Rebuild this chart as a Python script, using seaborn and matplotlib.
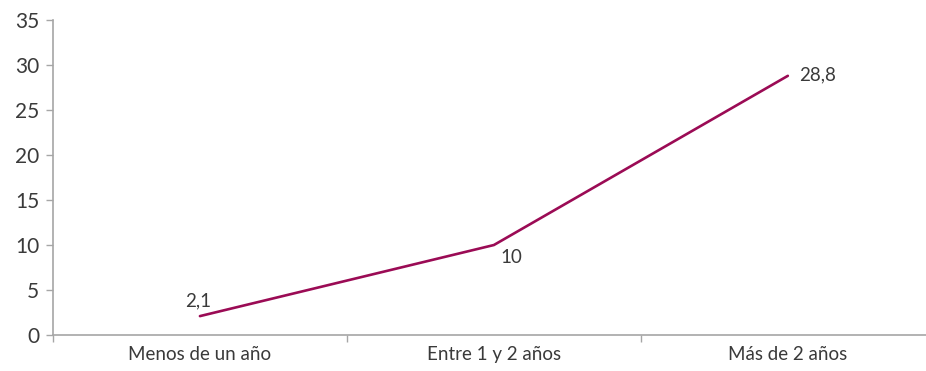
import matplotlib
matplotlib.use('Agg')
import matplotlib.pyplot as plt
import pandas as pd
import seaborn as sns

categorias = ['Menos de un año', 'Entre 1 y 2 años', 'Más de 2 años']
valores = [2.1, 10, 28.8]
etiquetas = ['2,1', '10', '28,8']

df = pd.DataFrame({'pos': range(len(categorias)), 'valor': valores})

sns.set_style('white')
plt.rcParams['font.family'] = ['Lato', 'DejaVu Sans']

fig = plt.figure(figsize=(9.26, 3.71), dpi=100)
ax = fig.add_axes([0.0572, 0.097, 0.9428, 0.849])

color = '#9b0b55'
sns.lineplot(data=df, x='pos', y='valor', ax=ax, color=color, linewidth=1.9)

# etiquetas de datos
offsets = [(-1, 5, 'center', 'bottom'), (5, -3, 'left', 'top'), (8, 1, 'left', 'center')]
for i, (v, t) in enumerate(zip(valores, etiquetas)):
    dx, dy, ha, va = offsets[i]
    ax.annotate(t, (i, v), xytext=(dx, dy), textcoords='offset points',
                ha=ha, va=va, fontsize=13.5, color='#3a3a3a')

ax.set_xlim(-0.5, 2.47)
ax.set_ylim(0, 35)
ax.set_yticks(range(0, 36, 5))
ax.tick_params(axis='y', labelsize=15, labelcolor='#3a3a3a', length=5,
               color='#a6a6a6', width=1, left=True, pad=5)

ax.set_xticks([-0.5, 0.5, 1.5])
ax.set_xticklabels([])
ax.set_xticks(range(len(categorias)), minor=True)
ax.set_xticklabels(categorias, minor=True)
ax.tick_params(axis='x', which='major', length=5, color='#a6a6a6', width=1, bottom=True)
ax.tick_params(axis='x', which='minor', length=0, labelsize=13.5, labelcolor='#3a3a3a', pad=8)

for s in ['top', 'right']:
    ax.spines[s].set_visible(False)
for s in ['left', 'bottom']:
    ax.spines[s].set_color('#a6a6a6')
    ax.spines[s].set_linewidth(1.2)

ax.set_xlabel('')
ax.set_ylabel('')

fig.savefig('out.png', dpi=100)
